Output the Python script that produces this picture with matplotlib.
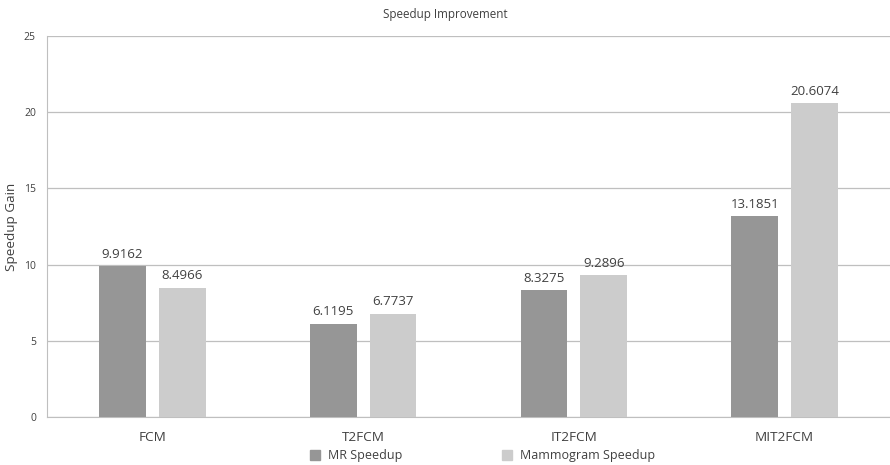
import numpy as np
import matplotlib.pyplot as plt
from matplotlib.patches import Patch

categories = ["FCM", "T2FCM", "IT2FCM", "MIT2FCM"]
mr_speedup = [9.9162, 6.1195, 8.3275, 13.1851]
mammo_speedup = [8.4966, 6.7737, 9.2896, 20.6074]
series_names = ["MR Speedup", "Mammogram Speedup"]

plt.rcParams["font.family"] = ["Open Sans", "DejaVu Sans"]
text_col = "#404040"
mr_col = "#969696"
mammo_col = "#cccccc"
grid_col = "#bfbfbf"

fig = plt.figure(figsize=(8.9, 4.65), dpi=100)
ax = fig.add_axes([0.0528, 0.1032, 0.9472, 0.8194])

x = np.arange(len(categories))
width = 0.222
offset = 0.142
b1 = ax.bar(x - offset, mr_speedup, width, color=mr_col, zorder=3)
b2 = ax.bar(x + offset, mammo_speedup, width, color=mammo_col, zorder=3)

for bars, vals in [(b1, mr_speedup), (b2, mammo_speedup)]:
    for rect, v in zip(bars, vals):
        ax.text(rect.get_x() + rect.get_width() / 2, v + 0.35, f"{v:.4f}",
                ha="center", va="bottom", fontsize=9.5, color=text_col)

ax.set_xlim(-0.5, 3.5)
ax.set_ylim(0, 25)
ax.set_yticks(range(0, 26, 5))
ax.yaxis.grid(True, color=grid_col, linewidth=0.9, zorder=0)
ax.set_xticks(x)
ax.set_xticklabels(categories, fontsize=9.7, color=text_col)
ax.tick_params(axis="x", length=0, pad=10)
ax.tick_params(axis="y", length=0, labelsize=7.5, labelcolor=text_col, pad=8)
for s in ["top", "right"]:
    ax.spines[s].set_visible(False)
ax.spines["left"].set_color(grid_col)
ax.spines["bottom"].set_color(grid_col)
ax.set_ylabel("Speedup Gain", fontsize=9.7, color=text_col, labelpad=4)

fig.text(0.5, 0.968, "Speedup Improvement", ha="center", va="center",
         fontsize=8.4, color=text_col)

handles = [Patch(color=mr_col), Patch(color=mammo_col)]
fig.legend(handles, series_names, loc="center", bbox_to_anchor=(0.542, 0.02),
           ncol=2, frameon=False, fontsize=9, handlelength=0.8, handleheight=0.8,
           columnspacing=8.0, handletextpad=0.6, labelcolor=text_col)

fig.savefig("out.png", dpi=100)
